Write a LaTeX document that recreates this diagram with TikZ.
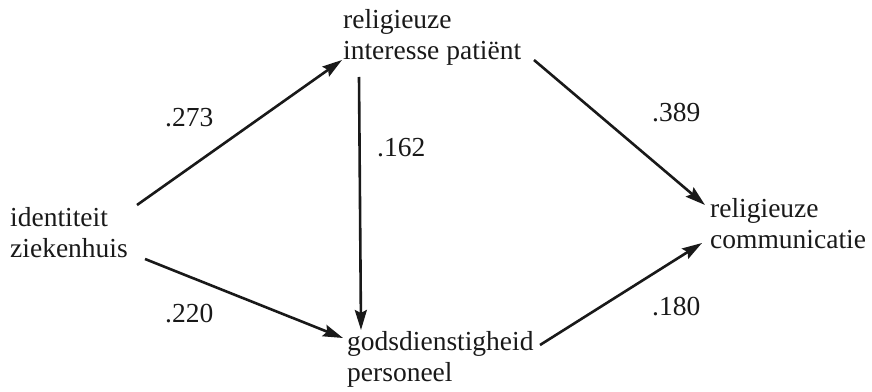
\documentclass[tikz,border=0pt]{standalone}
\usepackage{fontspec}
\setmainfont{Liberation Serif}
\usetikzlibrary{arrows.meta}
\begin{document}
\begin{tikzpicture}[x=1pt,y=1pt,
  var/.style={inner sep=0pt, align=left, anchor=north west, font=\fontsize{27.5}{31}\selectfont, text=black!90},
  coef/.style={inner sep=0pt, anchor=base west, font=\fontsize{27.5}{31}\selectfont, text=black!90},
  conn/.style={line width=2.6pt, draw=black!90, -{Stealth[length=20pt,width=12pt,inset=3pt]}}]
\useasboundingbox (0,0) rectangle (872,391);
% variables
\node[var] (id) at (10,184) {identiteit\\ziekenhuis};
\node[var] (rip) at (343,382) {religieuze\\interesse patiënt};
\node[var] (gp) at (347,59.5) {godsdienstigheid\\personeel};
\node[var] (rc) at (710,192.5) {religieuze\\communicatie};
% connector end points
\coordinate (id1) at (137,186);
\coordinate (id2) at (145,132);
\coordinate (rip1) at (342,331);
\coordinate (rip2) at (359,314);
\coordinate (rip3) at (534,331);
\coordinate (gp1) at (343,53);
\coordinate (gp2) at (361,61);
\coordinate (gp3) at (540,46);
\coordinate (rc1) at (705,186);
\coordinate (rc2) at (702,148);
% connectors
\draw[conn] (id1) -- (rip1);
\draw[conn] (id2) -- (gp1);
\draw[conn] (rip2) -- (gp2);
\draw[conn] (rip3) -- (rc1);
\draw[conn] (gp3) -- (rc2);
% coefficients
\node[coef] (c1) at (165,264) {.273};
\node[coef] (c2) at (377,234) {.162};
\node[coef] (c3) at (652,269) {.389};
\node[coef] (c4) at (165,69) {.220};
\node[coef] (c5) at (652,76) {.180};
\end{tikzpicture}
\end{document}
